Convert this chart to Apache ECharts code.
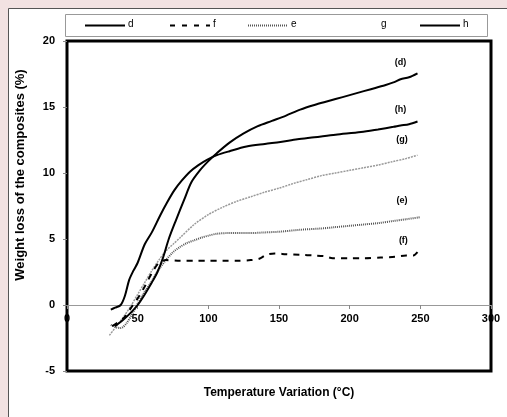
<!DOCTYPE html>
<html><head><meta charset="utf-8">
<script src="https://cdn.jsdelivr.net/npm/echarts@6/dist/echarts.min.js"></script>
<style>html,body{margin:0;padding:0;background:#f2e2e2}#c{width:507px;height:417px}</style>
</head><body><div id="c"></div>
<script>
// ---- data (temperature °C, weight loss %) ----
const xAxisRange = [0, 300, 50];
const yAxisRange = [-5, 20, 5];
const seriesNames = ['d', 'f', 'e', 'g', 'h'];
const curveD = [[34,-1.6],[40,-1.1],[45,-0.6],[50,0.0],[55,0.8],[60,1.7],[64,2.5],[68,3.6],[72,5.0],[77,6.4],[83,8.0],[88,9.3],[94,10.2],[100,10.9],[106,11.5],[115,12.3],[125,13.0],[135,13.55],[145,13.95],[155,14.35],[165,14.8],[175,15.15],[185,15.45],[195,15.75],[205,16.05],[215,16.35],[225,16.65],[232,16.9],[236,17.1],[242,17.25],[248,17.55]];
const curveF = [[32,-1.6],[40,-1.0],[46,-0.1],[50,0.5],[55,1.4],[60,2.4],[65,3.2],[70,3.4],[80,3.35],[90,3.35],[100,3.35],[110,3.35],[120,3.35],[130,3.4],[136,3.5],[141,3.8],[147,3.9],[155,3.85],[165,3.8],[175,3.75],[182,3.7],[188,3.55],[200,3.55],[210,3.55],[222,3.6],[232,3.65],[240,3.75],[245,3.75],[248,4.0]];
const curveE = [[31,-1.5],[35,-1.7],[38,-1.75],[42,-1.4],[46,-0.7],[50,0.1],[55,1.0],[60,1.8],[65,2.7],[70,3.4],[75,4.0],[80,4.4],[85,4.7],[90,4.9],[95,5.1],[100,5.25],[106,5.4],[115,5.45],[130,5.45],[140,5.5],[150,5.55],[165,5.7],[180,5.8],[190,5.9],[200,6.0],[210,6.1],[220,6.2],[230,6.35],[240,6.5],[250,6.65]];
const curveG = [[30,-2.3],[35,-1.6],[40,-0.9],[45,-0.1],[50,0.8],[55,1.7],[60,2.6],[65,3.4],[70,4.1],[75,4.6],[80,5.1],[90,6.1],[100,6.85],[110,7.4],[120,7.85],[130,8.2],[140,8.55],[150,8.85],[160,9.2],[170,9.5],[180,9.8],[190,10.0],[200,10.2],[210,10.4],[220,10.6],[230,10.85],[240,11.1],[248,11.35]];
const curveH = [[31,-0.35],[34,-0.2],[38,0.0],[41,0.7],[44,1.9],[47,2.6],[50,3.2],[55,4.6],[60,5.5],[66,6.8],[71,7.8],[76,8.7],[81,9.4],[87,10.1],[93,10.6],[99,11.0],[106,11.35],[115,11.65],[127,12.0],[140,12.2],[151,12.35],[163,12.55],[175,12.7],[190,12.9],[208,13.1],[220,13.3],[231,13.5],[236,13.6],[242,13.7],[248,13.9]];
const curveTags = ['(d)', '(f)', '(e)', '(g)', '(h)'];
const tagAnchors = [[236,18.4],[238,4.9],[237,7.95],[237,12.5],[236,14.8]];
const xTitle = 'Temperature Variation (°C)';
const yTitle = 'Weight loss of the composites (%)';

const FONT = '"Liberation Sans", Arial, sans-serif';
const curves = [curveD, curveF, curveE, curveG, curveH];
const styles = [
  {color:'#000', width:2, type:'solid'},
  {color:'#000', width:2, type:[6,6]},
  {color:'#555', width:2, type:[1,1]},
  {color:'#999', width:1.5, type:[2,1]},
  {color:'#000', width:2, type:'solid'}
];
const zs = [5, 3, 2, 1, 4];

const series = seriesNames.map((n, i) => ({
  name: n, type: 'line', data: curves[i], symbol: 'none', smooth: 0.3, z: zs[i],
  lineStyle: styles[i], itemStyle: {color: styles[i].color}, animation: false,
  markPoint: {
    silent: true, symbol: 'circle', symbolSize: 1, itemStyle: {color: 'rgba(0,0,0,0)'},
    label: {show: true, position: 'inside', formatter: curveTags[i], color: '#000', fontFamily: FONT, fontWeight: 'bold', fontSize: 9},
    data: [{coord: tagAnchors[i]}]
  }
}));

// legend drawn as graphic (line sample + letter)
const legendX = [85, 170, 248, 338, 420];
const legendGraphics = [];
seriesNames.forEach((n, i) => {
  const st = styles[i];
  if (n !== 'g') {
    legendGraphics.push({type: 'line', shape: {x1: legendX[i], y1: 25.5, x2: legendX[i] + 40, y2: 25.5},
      style: {stroke: st.color, lineWidth: st.width, lineDash: Array.isArray(st.type) ? (n === 'f' ? [5,7] : st.type) : null}});
  }
  legendGraphics.push({type: 'text', x: legendX[i] + 43, y: 24,
    style: {text: n, font: '10px ' + FONT, fill: '#000', align: 'left', verticalAlign: 'middle'}});
});

const chart = echarts.init(document.getElementById('c'), null, {renderer: 'canvas'});
chart.setOption({
  backgroundColor: '#f2e2e2',
  animation: false,
  graphic: [
    {type: 'rect', z: -10, shape: {x: 8.5, y: 8.5, width: 520, height: 430}, style: {fill: '#fff', stroke: '#555', lineWidth: 1}},
    {type: 'rect', z: -5, shape: {x: 65.5, y: 14.5, width: 422, height: 22}, style: {fill: '#fff', stroke: '#999', lineWidth: 1}},
    {type: 'text', x: 20, y: 175, rotation: Math.PI / 2, style: {text: yTitle, font: 'bold 13px ' + FONT, fill: '#000', align: 'center', verticalAlign: 'middle'}},
    {type: 'text', x: 279, y: 393, style: {text: xTitle, font: 'bold 12px ' + FONT, fill: '#000', align: 'center', verticalAlign: 'middle'}}
  ].concat(legendGraphics),
  grid: {left: 67, top: 41, right: 16, bottom: 46, show: true, borderColor: '#000', borderWidth: 3, backgroundColor: '#fff'},
  xAxis: {
    type: 'value', min: xAxisRange[0], max: xAxisRange[1], interval: xAxisRange[2],
    position: 'bottom', offset: -66,
    axisLine: {show: true, onZero: false, lineStyle: {color: '#999', width: 1}},
    axisTick: {show: true, length: 4, lineStyle: {color: '#888'}},
    axisLabel: {color: '#000', fontFamily: FONT, fontWeight: 'bold', fontSize: 11, margin: 8},
    splitLine: {show: false}
  },
  yAxis: {
    type: 'value', min: yAxisRange[0], max: yAxisRange[1], interval: yAxisRange[2],
    axisLine: {show: false},
    axisTick: {show: true, length: 4, lineStyle: {color: '#888'}},
    axisLabel: {color: '#000', fontFamily: FONT, fontWeight: 'bold', fontSize: 11, margin: 12},
    splitLine: {show: false}
  },
  series: series
});
</script></body></html>
